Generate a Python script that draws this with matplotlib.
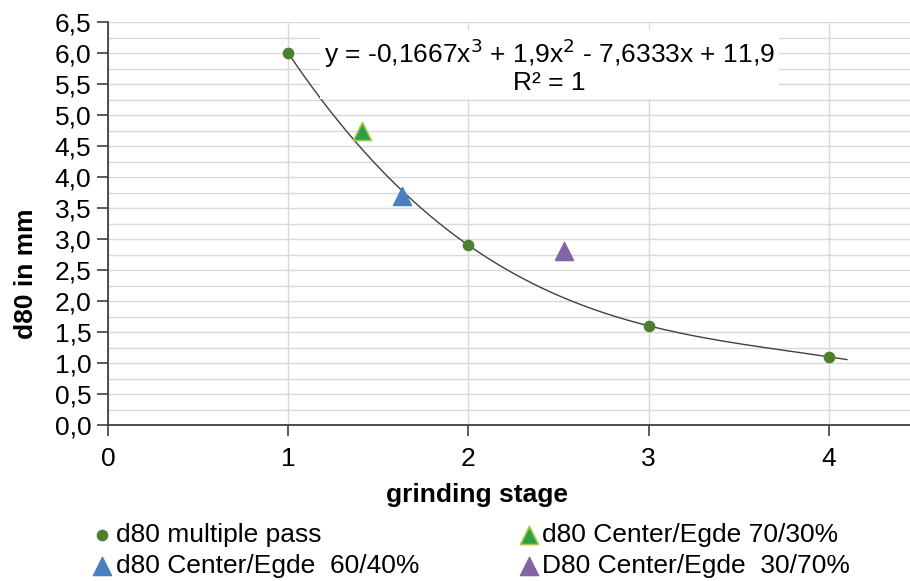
import matplotlib.pyplot as plt
import numpy as np
from matplotlib.ticker import MultipleLocator, FuncFormatter

plt.rcParams['font.family'] = ['Liberation Sans', 'DejaVu Sans']

# Daten
stage = [1, 2, 3, 4]
d80_multi = [6.0, 2.9, 1.6, 1.1]
x_7030, y_7030 = [1.41], [4.75]
x_6040, y_6040 = [1.63], [3.70]
x_3070, y_3070 = [2.53], [2.80]

label_multi = 'd80 multiple pass'
label_7030 = 'd80 Center/Egde 70/30%'
label_6040 = 'd80 Center/Egde  60/40%'
label_3070 = 'D80 Center/Egde  30/70%'
eq_text = 'y = -0,1667x$^3$ + 1,9x$^2$ - 7,6333x + 11,9\nR² = 1'

fs = 19

fig = plt.figure(figsize=(9.1, 5.81), dpi=100)
ax = fig.add_axes([0.1187, 0.2685, 0.8813, 0.6935])

# Polynom 3. Grades (Trendlinie wie in Excel)
coef = np.polyfit(stage, d80_multi, 3)
xs = np.linspace(1, 4.1, 200)
ax.plot(xs, np.polyval(coef, xs), color='#404040', lw=1.0, zorder=2)

ax.scatter(stage, d80_multi, s=55, color='#4f7f2c', zorder=4, label=label_multi)
ax.scatter(x_6040, y_6040, marker='^', s=170, color='#4a7fc1', zorder=4, label=label_6040)
ax.scatter(x_7030, y_7030, marker='^', s=170, color='#2aa047', edgecolor='#a8c84a',
           linewidth=1.2, zorder=4, label=label_7030)
ax.scatter(x_3070, y_3070, marker='^', s=170, color='#8263a6', zorder=4, label=label_3070)

ax.text(2.45, 5.80, eq_text, ha='center', va='center', fontsize=fs, linespacing=1.05,
        zorder=3, bbox=dict(facecolor='white', edgecolor='none', pad=3))

ax.set_xlim(0, 4.45)
ax.set_ylim(0, 6.5)
ax.xaxis.set_major_locator(MultipleLocator(1))
ax.yaxis.set_major_locator(MultipleLocator(0.5))
ax.yaxis.set_minor_locator(MultipleLocator(0.25))
ax.yaxis.set_major_formatter(FuncFormatter(lambda v, p: f'{v:.1f}'.replace('.', ',')))
ax.grid(True, which='both', axis='y', color='#d9d9d9', lw=1.0)
ax.grid(True, which='major', axis='x', color='#d9d9d9', lw=1.0)
ax.set_axisbelow(True)

for s in ['top', 'right']:
    ax.spines[s].set_visible(False)
for s in ['left', 'bottom']:
    ax.spines[s].set_color('#404040')
    ax.spines[s].set_linewidth(1.3)
ax.tick_params(which='major', length=8, width=1.2, color='#404040', labelsize=fs)
ax.tick_params(which='minor', length=0)
ax.tick_params(axis='x', pad=8)
ax.tick_params(axis='y', pad=4)

ax.set_xlabel('grinding stage', fontsize=fs, fontweight='bold')
ax.set_ylabel('d80 in mm', fontsize=fs, fontweight='bold')
ax.xaxis.set_label_coords(0.46, -0.145)
ax.yaxis.set_label_coords(-0.087, 0.375)

handles, labels = ax.get_legend_handles_labels()
fig.legend(handles, labels,
           loc='upper left', bbox_to_anchor=(0.0865, 0.118), ncol=2, frameon=False,
           fontsize=fs, handletextpad=0.0, columnspacing=3.65, labelspacing=0.25,
           handlelength=1.0, borderaxespad=0)

fig.savefig('out.png', dpi=100)
